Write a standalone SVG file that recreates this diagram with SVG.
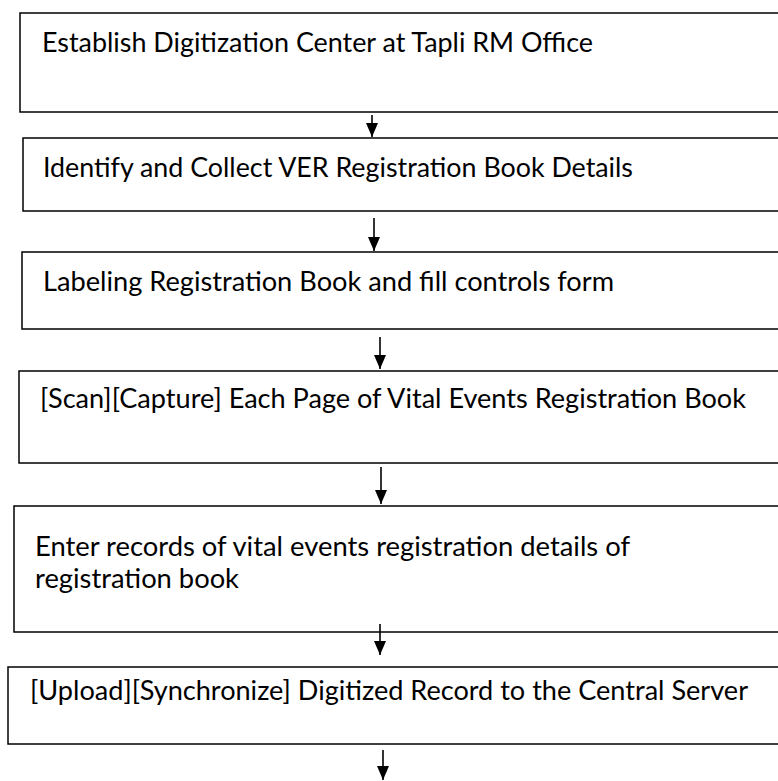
<svg xmlns="http://www.w3.org/2000/svg" width="778" height="781" viewBox="0 0 778 781">
<style>
.box{fill:#fff;stroke:#000;stroke-width:1.5}
.lbl{font-family:Lato,"Open Sans","Liberation Sans",sans-serif;font-size:26px;fill:#000}
.con{stroke:#000;stroke-width:1.6;fill:none}
</style>
<defs>
<marker id="ah" markerUnits="userSpaceOnUse" markerWidth="16" markerHeight="14" refX="14" refY="0" orient="auto" viewBox="0 -7 16 14" overflow="visible">
<path d="M0,-6 L14,0 L0,6 z" fill="#000"/>
</marker>
</defs>
<rect width="778" height="781" fill="#fff"/>
<g id="n1"><rect class="box" x="20" y="13" width="800" height="99"/><text class="lbl" x="42" y="52" textLength="551" lengthAdjust="spacingAndGlyphs">Establish Digitization Center at Tapli RM Office</text></g>
<g id="n2"><rect class="box" x="23" y="138" width="800" height="73"/><text class="lbl" x="43" y="177" textLength="590" lengthAdjust="spacingAndGlyphs">Identify and Collect VER Registration Book Details</text></g>
<g id="n3"><rect class="box" x="22" y="252" width="800" height="77"/><text class="lbl" x="43" y="291" textLength="571" lengthAdjust="spacingAndGlyphs">Labeling Registration Book and fill controls form</text></g>
<g id="n4"><rect class="box" x="19" y="371" width="800" height="92"/><text class="lbl" x="40" y="408" textLength="706" lengthAdjust="spacingAndGlyphs">[Scan][Capture] Each Page of Vital Events Registration Book</text></g>
<g id="n5"><rect class="box" x="14" y="506" width="800" height="126"/><text class="lbl" x="35" y="556" textLength="595" lengthAdjust="spacingAndGlyphs">Enter records of vital events registration details of</text><text class="lbl" x="35" y="588" textLength="204" lengthAdjust="spacingAndGlyphs">registration book</text></g>
<g id="n6"><rect class="box" x="8" y="667" width="800" height="77"/><text class="lbl" x="30" y="700" textLength="718" lengthAdjust="spacingAndGlyphs">[Upload][Synchronize] Digitized Record to the Central Server</text></g>
<g id="connectors">
<line class="con" x1="372" y1="115" x2="372" y2="137" marker-end="url(#ah)"/>
<line class="con" x1="374" y1="218" x2="374" y2="251" marker-end="url(#ah)"/>
<line class="con" x1="380" y1="337" x2="380" y2="369" marker-end="url(#ah)"/>
<line class="con" x1="381" y1="467" x2="381" y2="504" marker-end="url(#ah)"/>
<line class="con" x1="380" y1="624" x2="380" y2="655" marker-end="url(#ah)"/>
<line class="con" x1="383" y1="750" x2="383" y2="780" marker-end="url(#ah)"/>
</g>
</svg>
